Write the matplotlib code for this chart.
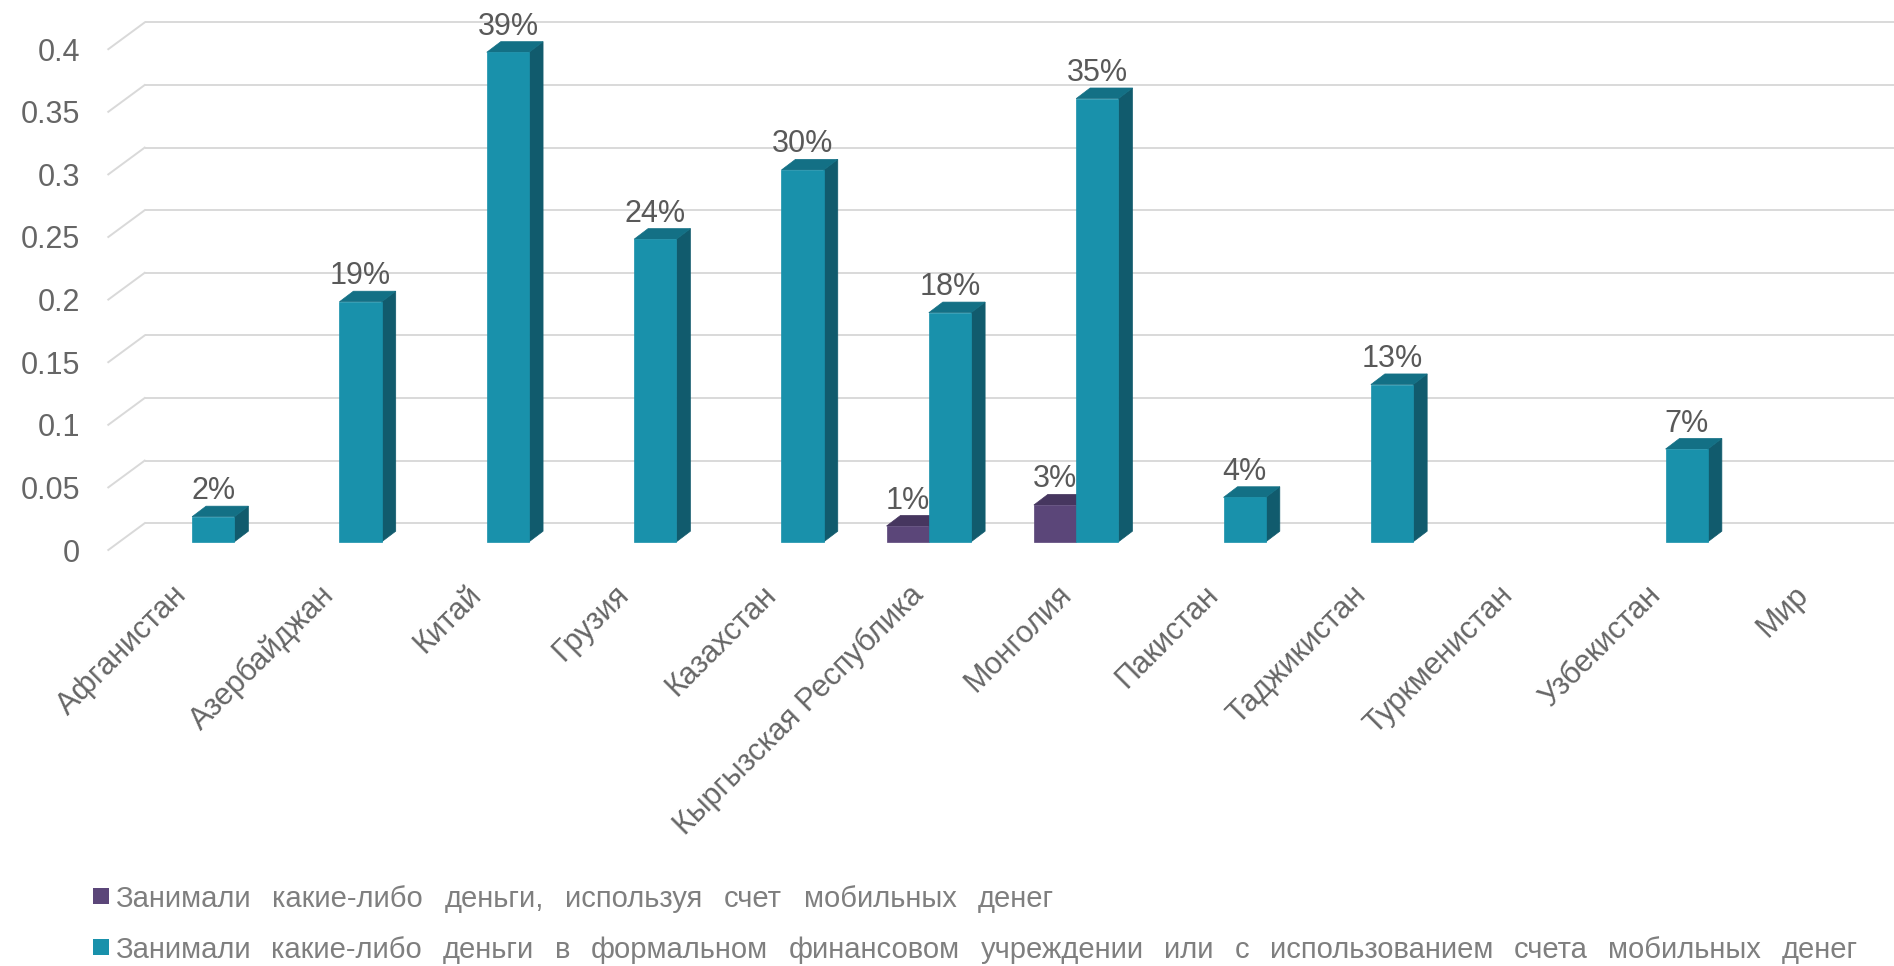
import matplotlib
matplotlib.use("Agg")
import matplotlib.pyplot as plt
from matplotlib.patches import Polygon, Rectangle
from matplotlib.transforms import ScaledTranslation

plt.rcParams["font.family"] = ["Liberation Sans", "DejaVu Sans"]

# --- data -------------------------------------------------------------------
categories = ["Афганистан", "Азербайджан", "Китай", "Грузия", "Казахстан",
              "Кыргызская Республика", "Монголия", "Пакистан", "Таджикистан",
              "Туркменистан", "Узбекистан", "Мир"]

# Borrowed any money using a mobile money account
mobile_borrow = [None, None, None, None, None, 0.0126, 0.0294,
                 None, None, None, None, None]

# Borrowed any money from a formal financial institution or using a mobile money account
formal_borrow = [0.020, 0.1917, 0.391, 0.2417, 0.297, 0.183, 0.354,
                 0.0355, 0.1256, None, 0.0741, None]

series_names = ["Занимали какие-либо деньги, используя счет мобильных денег",
                "Занимали какие-либо деньги в формальном финансовом учреждении "
                "или с использованием счета мобильных денег"]

y_ticks = [0, 0.05, 0.1, 0.15, 0.2, 0.25, 0.3, 0.35, 0.4]
y_tick_labels = ["0", "0.05", "0.1", "0.15", "0.2", "0.25", "0.3", "0.35", "0.4"]

# --- style ------------------------------------------------------------------
W, H, DPI = 1894, 966, 100
purple = {"front": "#5b4679", "top": "#46365f", "side": "#3c2e52"}
teal = {"front": "#1991ab", "top": "#137085", "side": "#115b6d"}
grid_col = "#d9d9d9"
tick_col = "#666666"
label_col = "#595959"
legend_col = "#7f7f7f"

fig = plt.figure(figsize=(W / DPI, H / DPI), dpi=DPI)
fig.patch.set_facecolor("white")

# axes frame = plane of the bar fronts (pixels measured from the top-left)
x_left, x_right = 118.4, 1886.6
y_zero, px_per_unit = 541.8, 1252.0
ax = fig.add_axes([x_left / W, (H - y_zero) / H,
                   (x_right - x_left) / W, 0.4 * px_per_unit / H])
ax.set_xlim(-0.5, len(categories) - 0.5)
ax.set_ylim(0, 0.4)
ax.axis("off")

ppx = (x_right - x_left) / len(categories)   # pixels per category
ppy = px_per_unit                            # pixels per value unit


def dxd(px):
    return px / ppx


def dyd(px):
    return px / ppy


def shift(dx_px, dy_px):
    return ax.transData + ScaledTranslation(dx_px / DPI, dy_px / DPI,
                                            fig.dpi_scale_trans)


# depth offsets (pixels, y up) relative to the bar-front plane
front_dx, front_dy = -10.1, -8.2
back_dx, back_dy = 26.3, 18.6
bar_dx, bar_dy = 14.0, 10.6
bar_w = 0.287

# back wall gridlines and floor/side diagonals
for v in y_ticks:
    ax.plot([-0.5 + dxd(back_dx), len(categories) + 0.5],
            [v + dyd(back_dy)] * 2, color=grid_col, lw=1.4,
            clip_on=False, zorder=1, solid_capstyle="butt")
    ax.plot([-0.5 + dxd(front_dx), -0.5 + dxd(back_dx)],
            [v + dyd(front_dy), v + dyd(back_dy)], color=grid_col, lw=1.4,
            clip_on=False, zorder=1)

# y tick labels on the front plane
for v, lab in zip(y_ticks, y_tick_labels):
    ax.text(-0.5, v, lab, transform=shift(-38.4, front_dy),
            ha="right", va="center_baseline", fontsize=22, color=tick_col,
            clip_on=False)


def draw_series(values, offset, colors):
    xs = [i + offset for i, v in enumerate(values) if v is not None]
    vs = [v for v in values if v is not None]
    ax.bar(xs, vs, width=bar_w, align="edge", color=colors["front"],
           edgecolor=colors["front"], linewidth=0.5, zorder=3, clip_on=False)
    ddx, ddy = dxd(bar_dx), dyd(bar_dy)
    for x, v in zip(xs, vs):
        side = [(x + bar_w, 0), (x + bar_w, v),
                (x + bar_w + ddx, v + ddy), (x + bar_w + ddx, ddy)]
        top = [(x, v), (x + bar_w, v),
               (x + bar_w + ddx, v + ddy), (x + ddx, v + ddy)]
        ax.add_patch(Polygon(side, closed=True, facecolor=colors["side"],
                             edgecolor=colors["side"], lw=0.5, zorder=2,
                             clip_on=False))
        ax.add_patch(Polygon(top, closed=True, facecolor=colors["top"],
                             edgecolor=colors["top"], lw=0.5, zorder=2,
                             clip_on=False))
        ax.annotate(f"{round(v * 100):.0f}%", xy=(x + bar_w / 2, v),
                    xytext=(0, 17.5 * 72 / DPI), textcoords="offset points",
                    ha="center", va="baseline", fontsize=22,
                    color=label_col, zorder=5, annotation_clip=False)


draw_series(mobile_borrow, -bar_w, purple)
draw_series(formal_borrow, 0.0, teal)

# category labels
for i, name in enumerate(categories):
    ax.text(i, 0, name, transform=shift(-20, -38), rotation=45,
            rotation_mode="anchor", ha="right", va="top", fontsize=22,
            color=tick_col, clip_on=False)

# legend: square marker + word-justified text line
renderer = fig.canvas.get_renderer()
legend_rows = [(series_names[0], purple["front"], 896, 1054),
               (series_names[1], teal["front"], 946.5, 1858)]
text_x0 = 115
for text, col, yc, x_end in legend_rows:
    fig.patches.append(Rectangle((92.5 / W, (H - yc - 8) / H), 16.5 / W, 16 / H,
                                 transform=fig.transFigure, facecolor=col,
                                 edgecolor="none"))
    words = text.split(" ")
    objs = [fig.text(0, (H - yc) / H, w, ha="left", va="center_baseline",
                     fontsize=21, color=legend_col) for w in words]
    widths = [o.get_window_extent(renderer).width for o in objs]
    gap = (x_end - text_x0 - sum(widths)) / (len(words) - 1)
    x = text_x0
    for o, wd in zip(objs, widths):
        o.set_x(x / W)
        x += wd + gap

fig.savefig("out.png", dpi=DPI, facecolor="white")
